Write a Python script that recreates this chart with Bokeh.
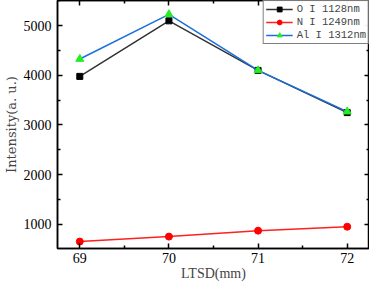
from bokeh.plotting import figure
from bokeh.models import Range1d, LinearAxis, FixedTicker, Legend, LegendItem
from bokeh.embed import file_html
from bokeh.resources import INLINE

ltsd = [69, 70, 71, 72]
o_vals = [3980, 5100, 4100, 3250]
n_vals = [650, 750, 870, 950]
al_vals = [4330, 5230, 4100, 3270]
x_ticks = [69, 70, 71, 72]
y_ticks = [1000, 2000, 3000, 4000, 5000]

FONT = "Liberation Serif"

p = figure(width=369, height=283, output_backend="svg", toolbar_location=None,
           x_range=Range1d(68.75, 72.25), y_range=Range1d(510, 5510),
           min_border_left=46, min_border_right=0, min_border_top=0, min_border_bottom=31)
p.xgrid.visible = False
p.ygrid.visible = False
p.outline_line_color = "black"
p.outline_line_width = 1.5

def style_axis(ax, labels=True):
    ax.axis_line_width = 1.5
    ax.axis_line_color = "black"
    ax.major_tick_in = 5
    ax.major_tick_out = 0
    ax.minor_tick_in = 3
    ax.minor_tick_out = 0
    ax.major_tick_line_width = 1.5
    ax.minor_tick_line_width = 1.5
    ax.major_label_text_font = FONT
    ax.major_label_text_font_size = "14px"
    ax.major_label_text_color = "black"
    ax.axis_label_text_font = FONT
    ax.axis_label_text_font_size = "14px"
    ax.axis_label_text_font_style = "normal"
    if not labels:
        ax.major_label_overrides = {t: "" for t in (x_ticks + y_ticks)}
        ax.major_label_standoff = 0
        ax.major_label_text_font_size = "1px"

xt = FixedTicker(ticks=x_ticks, minor_ticks=[68.5, 69.5, 70.5, 71.5, 72.5])
yt = FixedTicker(ticks=y_ticks, minor_ticks=[500, 1500, 2500, 3500, 4500, 5500])

p.xaxis.ticker = xt
p.yaxis.ticker = yt
style_axis(p.xaxis[0])
style_axis(p.yaxis[0])
p.xaxis.axis_label = "LTSD(mm)"
p.yaxis.axis_label = "Intensity(a. u.)"
p.yaxis.axis_label_text_font = "DejaVu Serif"
p.yaxis.axis_label_text_font_size = "13px"
p.xaxis.axis_label_standoff = 0
p.yaxis.axis_label_standoff = 2
p.xaxis.major_label_standoff = 4
p.yaxis.major_label_standoff = 6

ax_top = LinearAxis(ticker=xt)
style_axis(ax_top, labels=False)
p.add_layout(ax_top, "above")
ax_right = LinearAxis(ticker=yt)
style_axis(ax_right, labels=False)
p.add_layout(ax_right, "right")

l1 = p.line(ltsd, o_vals, line_color="#333333", line_width=1.5)
m1 = p.scatter(ltsd, o_vals, marker="square", size=6, fill_color="black", line_color="black")
l2 = p.line(ltsd, n_vals, line_color="#ff2020", line_width=1.5)
m2 = p.scatter(ltsd, n_vals, marker="circle", size=7, fill_color="#ff0000", line_color="#ff0000")
l3 = p.line(ltsd, al_vals, line_color="#1a6fe0", line_width=1.5)
m3 = p.scatter(ltsd, al_vals, marker="triangle", size=8, fill_color="#22ee22", line_color="#22ee22")

legend = Legend(items=[
    LegendItem(label="O I 1128nm", renderers=[l1, m1]),
    LegendItem(label="N I 1249nm", renderers=[l2, m2]),
    LegendItem(label="Al I 1312nm", renderers=[l3, m3]),
], location="top_right")
legend.label_text_font = "Liberation Mono"
legend.label_text_font_size = "10.5px"
legend.label_height = 10
legend.glyph_height = 12
legend.glyph_width = 27
legend.spacing = 1
legend.padding = 2
legend.margin = 0
legend.border_line_color = "black"
legend.border_line_width = 1
legend.label_standoff = 4
p.add_layout(legend)

open("out.html", "w").write(file_html(p, INLINE))
